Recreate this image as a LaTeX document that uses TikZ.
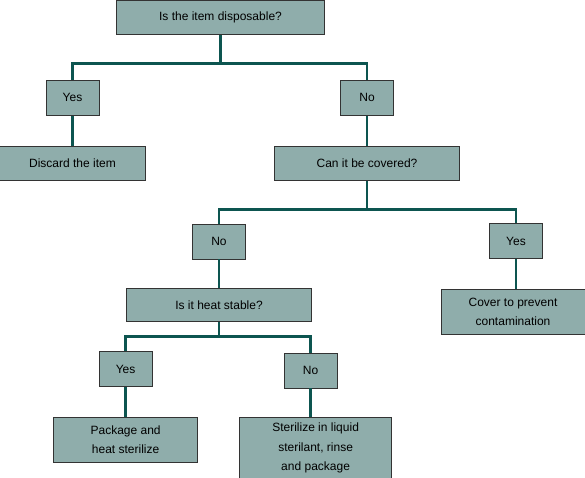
\documentclass[tikz,border=0pt]{standalone}
\usepackage{fontspec}
\setmainfont{Liberation Sans}
\usepackage{xcolor}
\usepackage{tikz}
\usetikzlibrary{positioning}

\definecolor{boxfill}{HTML}{8FADAB}
\definecolor{boxline}{HTML}{333333}
\definecolor{branch}{HTML}{0D5550}

\begin{document}
\begin{tikzpicture}[ x = 1pt, y = 1pt
                   , font = \fontsize{12}{19.5}\selectfont
                   , question/.style = { rectangle
                                       , draw = boxline
                                       , fill = boxfill
                                       , line width = 0.9pt
                                       , inner sep = 0pt
                                       , align = center
                                       , minimum height = 34pt }
                   , answer/.style = { question
                                     , minimum width = 53pt
                                     , minimum height = 35pt }
                   , branch line/.style = { draw = branch, line width = 2.6pt }
                   ]
  \useasboundingbox (0,0) rectangle (585,-478);

  \node (disposable) [question, minimum width = 208pt] at (220.5,-17.7) {Is the item disposable?};
  \node (yes1) [answer] at (72.5,-97.7) {Yes};
  \node (no1) [answer] at (367,-97.7) {No};
  \node (discard) [question, below = 30pt of yes1, minimum width = 146pt] {Discard the item};
  \node (covered) [question, below = 30pt of no1, minimum width = 185pt] {Can it be covered?};

  \node (no2) [answer] at (219,-241.5) {No};
  \node (yes2) [answer] at (516,-241) {Yes};
  \node (stable) [question, below = 29pt of no2, minimum width = 185pt, minimum height = 33pt] {Is it heat stable?};
  \node (cover) [question, below = 30pt of yes2, xshift = -3pt, minimum width = 144pt, minimum height = 44.6pt]
    {Cover to prevent\\ contamination};

  \node (yes3) [answer] at (125.6,-369) {Yes};
  \node (no3) [answer] at (310.6,-370.5) {No};
  \node (package) [question, below = 30pt of yes3, minimum width = 144.5pt, minimum height = 44.7pt]
    {Package and\\ heat sterilize};
  \node (sterilize) [question, below = 29pt of no3, xshift = 5pt, minimum width = 152.5pt, minimum height = 60.7pt]
    {Sterilize in liquid\\ sterilant, rinse\\ and package};

  % split points of the branches
  \coordinate [below = 28.6pt of disposable.south] (split1);
  \coordinate [below = 28.7pt of covered.south] (split2);
  \coordinate [below = 14pt of stable.south] (split3);

  \draw [branch line] (disposable) -- (split1) -| (yes1);
  \draw [branch line] (split1) -| (no1);
  \draw [branch line] (yes1) -- (discard);
  \draw [branch line] (no1) -- (covered);

  \draw [branch line] (covered) -- (split2) -| (no2);
  \draw [branch line] (split2) -| (yes2);
  \draw [branch line] (no2) -- (stable);
  \draw [branch line] (yes2.south) -- (yes2.south |- cover.north);

  \draw [branch line] (stable) -- (split3) -| (yes3);
  \draw [branch line] (split3) -| (no3);
  \draw [branch line] (yes3) -- (package);
  \draw [branch line] (no3.south) -- (no3.south |- sterilize.north);
\end{tikzpicture}
\end{document}
